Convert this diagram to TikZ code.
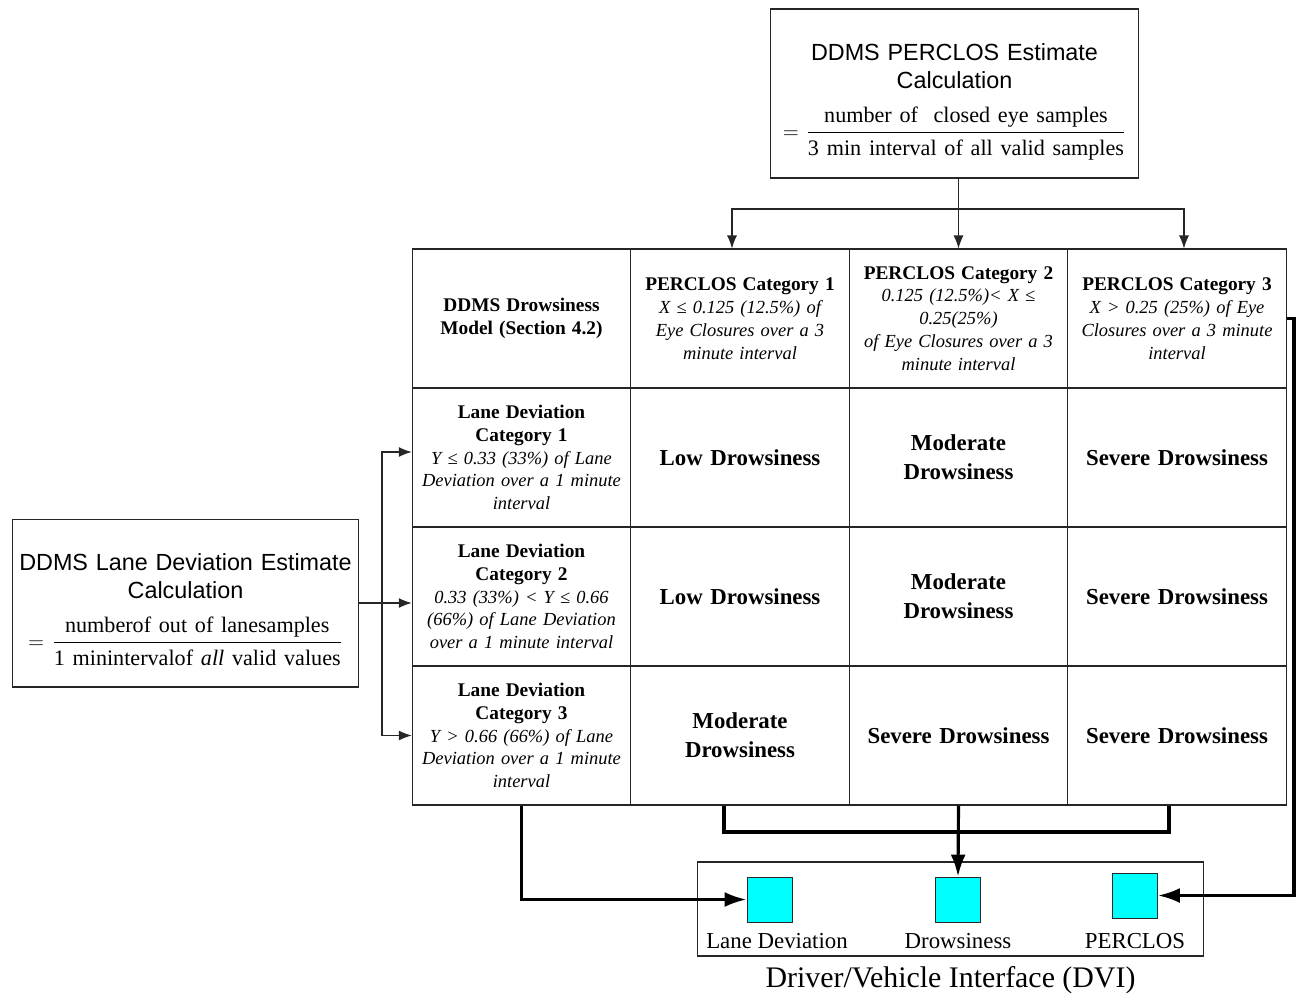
\documentclass[tikz,border=0pt]{standalone}
\usepackage{amsmath}
\usepackage{fontspec}
\setmainfont{Liberation Serif}
\setsansfont{Liberation Sans}
\usepackage{tikz}
\usetikzlibrary{arrows.meta,positioning}
\definecolor{linegray}{HTML}{262626}
\definecolor{dvicyan}{HTML}{00FFFF}
\newcommand{\cellhead}[1]{{\fontsize{11}{13}\selectfont\bfseries #1}}
\newcommand{\calcformula}[2]{{\rmfamily\fontsize{12.6}{15}\selectfont
  $=\dfrac{\text{#1}\rule[-4.5pt]{0pt}{4.5pt}}{\rule{0pt}{11pt}\text{#2}}$}}

\begin{document}
\begin{tikzpicture}[
  x=0.02cm, y=-0.02cm,
  node distance=0.2cm,
  calcbox/.style={draw=linegray, line width=0.6pt, align=center, inner sep=0pt,
                  font=\sffamily\fontsize{13.3}{16}\selectfont},
  cell/.style={draw=linegray, line width=0.6pt, minimum width=4.37cm,
               minimum height=2.78cm, text width=4.2cm, align=center, inner sep=0pt},
  headcell/.style={cell, font=\fontsize{10.5}{13}\selectfont},
  levelcell/.style={cell, font=\fontsize{13}{16.5}\selectfont\bfseries},
  lamp/.style={draw=linegray, line width=0.5pt, fill=dvicyan, minimum size=0.9cm,
               inner sep=0pt},
  lamplabel/.style={font=\fontsize{13}{15}\selectfont, inner sep=0pt},
  arrow/.style={-{Latex[length=2.6mm,width=2mm]}, line width=0.6pt, draw=linegray},
  feed/.style={line width=1.8pt, draw=black},
  feedarrow/.style={feed, -{Latex[length=4.4mm,width=3mm]}}
]
  \useasboundingbox (0,0) rectangle (1296,995);

  % estimate boxes
  \node[calcbox, minimum width=7.38cm, minimum height=3.38cm, text width=7.2cm]
    (pcalc) at (954.5,93.5) {\rule{0pt}{19pt}DDMS PERCLOS Estimate\\Calculation\\[9pt]
    \calcformula{number of \ closed eye samples}{3 min interval of all valid samples}};
  \node[calcbox, minimum width=6.94cm, minimum height=3.36cm, text width=6.8cm]
    (lcalc) at (185.5,603) {\rule{0pt}{17pt}DDMS Lane Deviation Estimate\\Calculation\\[9pt]
    \calcformula{numberof out of lanesamples}{1 minintervalof \textit{all} valid values}};

  % header row
  \node[headcell] (h0) at (521.5,318.5) {\cellhead{DDMS Drowsiness\\Model (Section 4.2)}};
  \node[headcell] (h1) at (740,318.5) {\cellhead{PERCLOS Category 1}\\ \itshape
    X ≤ 0.125 (12.5\%) of\\Eye Closures over a 3\\minute interval};
  \node[headcell] (h2) at (958.5,318.5) {\cellhead{PERCLOS Category 2}\\ \itshape
    0.125 (12.5\%)< X ≤\\0.25(25\%)\\of Eye Closures over a 3\\minute interval};
  \node[headcell] (h3) at (1177,318.5) {\cellhead{PERCLOS Category 3}\\ \itshape
    X > 0.25 (25\%) of Eye\\Closures over a 3 minute\\interval};

  % lane deviation column
  \node[headcell] (r1) at (521.5,457.5) {\cellhead{Lane Deviation\\Category 1}\\ \itshape
    Y ≤ 0.33 (33\%) of Lane\\Deviation over a 1 minute\\interval};
  \node[headcell] (r2) at (521.5,596.5) {\cellhead{Lane Deviation\\Category 2}\\ \itshape
    0.33 (33\%) < Y ≤ 0.66\\(66\%) of Lane Deviation\\over a 1 minute interval};
  \node[headcell] (r3) at (521.5,735.5) {\cellhead{Lane Deviation\\Category 3}\\ \itshape
    Y > 0.66 (66\%) of Lane\\Deviation over a 1 minute\\interval};

  % drowsiness levels
  \node[levelcell] (b11) at (740,457.5) {Low Drowsiness};
  \node[levelcell] (b12) at (958.5,457.5) {Moderate\\Drowsiness};
  \node[levelcell] (b13) at (1177,457.5) {Severe Drowsiness};
  \node[levelcell] (b21) at (740,596.5) {Low Drowsiness};
  \node[levelcell] (b22) at (958.5,596.5) {Moderate\\Drowsiness};
  \node[levelcell] (b23) at (1177,596.5) {Severe Drowsiness};
  \node[levelcell] (b31) at (740,735.5) {Moderate\\Drowsiness};
  \node[levelcell] (b32) at (958.5,735.5) {Severe Drowsiness};
  \node[levelcell] (b33) at (1177,735.5) {Severe Drowsiness};

  % DVI
  \node[draw=linegray, line width=0.6pt, minimum width=10.14cm, minimum height=1.88cm]
    (dvi) at (950.5,909) {};
  \node[lamp] (lamp1) at (769.5,899.5) {};
  \node[lamp] (lamp2) at (958,899.5) {};
  \node[lamp] (lamp3) at (1135,895.5) {};
  \node[lamplabel] (lab1) at (777,941) {Lane Deviation};
  \node[lamplabel] (lab2) at (958,941) {Drowsiness};
  \node[lamplabel] (lab3) at (1135,941) {PERCLOS};
  \node[below=0.2cm of dvi, inner sep=0pt, font=\fontsize{17}{20}\selectfont]
    (dvititle) {Driver/Vehicle Interface (DVI)};

  % perclos split
  \coordinate (ptop) at (958.5,209);
  \draw[arrow] (pcalc.south -| h2.north) -- (h2.north);
  \draw[arrow] (ptop) -| ([xshift=-0.16cm]h1.north);
  \draw[arrow] (ptop) -| ([xshift=0.14cm]h3.north);

  % lane deviation split
  \coordinate (lsplit) at (382,603);
  \draw[arrow] (lcalc.east) -- (lcalc.east -| r2.west);
  \draw[arrow] (lsplit) |- ([yshift=0.11cm]r1.west);
  \draw[arrow] (lsplit) |- (r3.west);

  % outputs to DVI
  \coordinate (merge) at (958.5,832);
  \coordinate (rturn) at (1294,318.5);
  \draw[feedarrow] (r3.south) |- (lamp1.west);
  \draw[feed] ([xshift=-0.32cm]b31.south) |- (merge) -| ([xshift=-0.16cm]b33.south);
  \draw[feedarrow] (b32.south) -- (lamp2.north);
  \draw[feedarrow] (h3.east) -- (rturn) |- (lamp3.east);
\end{tikzpicture}
\end{document}
